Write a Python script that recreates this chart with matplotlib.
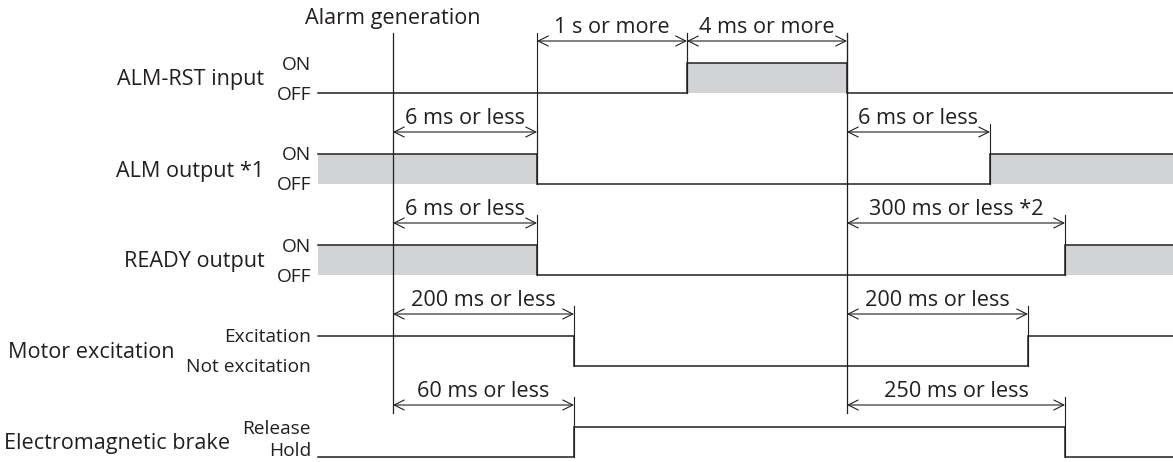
import matplotlib
matplotlib.use("Agg")
import matplotlib.pyplot as plt

# ---- data (schematic time axis) ----
signals = ["ALM-RST input", "ALM output *1", "READY output",
           "Motor excitation", "Electromagnetic brake"]
on_labels = ["ON", "ON", "ON", "Excitation", "Release"]
off_labels = ["OFF", "OFF", "OFF", "Not excitation", "Hold"]
initial_state = [0, 1, 1, 1, 0]          # 1 = upper level
transitions = [[687, 847], [537, 990], [537, 1065], [574, 1028], [574, 1065]]
shaded = [True, True, True, False, False]
t_begin, t_end = 318, 1173
reference_times = [393, 847]
reference_label = "Alarm generation"

span_rows = [0, 0, 1, 1, 2, 2, 3, 3, 4, 4]
span_start = [537, 687, 393, 847, 393, 847, 393, 847, 393, 847]
span_end = [687, 847, 537, 990, 537, 1065, 574, 1028, 574, 1065]
span_labels = ["1 s or more", "4 ms or more", "6 ms or less", "6 ms or less",
               "6 ms or less", "300 ms or less *2", "200 ms or less",
               "200 ms or less", "60 ms or less", "250 ms or less"]

# ---- style ----
plt.rcParams['font.family'] = ['Open Sans', 'DejaVu Sans']
INK = '#231f20'
FILL = '#d1d3d4'
W, H = 1173, 462
fig = plt.figure(figsize=(W / 100, H / 100), dpi=100)
ax = fig.add_axes([0, 0, 1, 1])
ax.set_xlim(0, W)
ax.set_ylim(H, 0)
ax.axis('off')

ROW0, ROW_STEP, AMP = 63, 91, 30
ARROW_UP = 22
LBL_FS = 15.6
STATE_FS = 13.8

def hi_y(i):
    return ROW0 + ROW_STEP * i

def lo_y(i):
    return hi_y(i) + AMP

state_x = t_begin - 7
for i, name in enumerate(signals):
    hy, ly = hi_y(i), lo_y(i)
    xs = [t_begin] + transitions[i] + [t_end]
    st = initial_state[i]
    states = []
    for _ in range(len(xs)):
        states.append(st)
        st = 1 - st
    ys = [hy if s else ly for s in states]
    ys[-1] = ys[-2]
    if shaded[i]:
        ax.fill_between(xs, ys, ly, step='post', color=FILL, lw=0, zorder=1)
    ax.step(xs, ys, where='post', color=INK, lw=1.1, zorder=3,
            solid_joinstyle='miter')
    t_on = ax.text(state_x, hy + 6.5, on_labels[i], ha='right', va='baseline',
                   fontsize=STATE_FS, color=INK)
    t_off = ax.text(state_x, min(ly + 6.5, H - 6), off_labels[i], ha='right',
                    va='baseline', fontsize=STATE_FS, color=INK)
    wider = t_on if len(on_labels[i]) > len(off_labels[i]) else t_off
    ax.annotate(name, xy=(0, (hy + ly) / 2 + 7.5), xycoords=(wider, 'data'),
                xytext=(-12, 0), textcoords='offset pixels',
                ha='right', va='baseline', fontsize=LBL_FS, color=INK)

# reference lines
last_arrow = hi_y(len(signals) - 1) - ARROW_UP
top = hi_y(0) - ARROW_UP - 8
for t in reference_times:
    ax.plot([t, t], [top, last_arrow + 8], color=INK, lw=0.9, zorder=2)
ax.text(reference_times[0], top - 9, reference_label, ha='center',
        va='baseline', fontsize=LBL_FS, color=INK)

# timing spans
for r, a, b, lab in zip(span_rows, span_start, span_end, span_labels):
    ay = hi_y(r) - ARROW_UP
    ax.annotate('', xy=(b, ay), xytext=(a, ay),
                arrowprops=dict(arrowstyle='<->', color=INK, lw=0.8,
                                shrinkA=0, shrinkB=0, mutation_scale=18))
    ax.text((a + b) / 2, ay - 8, lab, ha='center', va='baseline',
            fontsize=LBL_FS, color=INK)
    for x in (a, b):
        for k in range(r, len(signals)):
            if x in transitions[k]:
                ax.plot([x, x], [ay - 8, lo_y(k)], color=INK, lw=0.8, zorder=2)
                break

fig.savefig('out.png', dpi=100)
